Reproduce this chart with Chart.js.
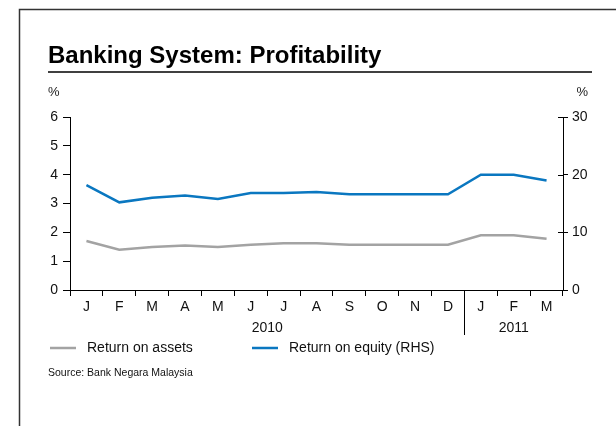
<!DOCTYPE html>
<html>
<head>
<meta charset="utf-8">
<script src="https://cdn.jsdelivr.net/npm/chart.js@4"></script>
<style>
  html, body { margin: 0; padding: 0; background: #fff; }
  #wrap { position: relative; width: 616px; height: 426px; }
</style>
</head>
<body>
<div id="wrap"><canvas id="chart" width="616" height="426"></canvas></div>
<script>
// --- Data ---
const months = ['J', 'F', 'M', 'A', 'M', 'J', 'J', 'A', 'S', 'O', 'N', 'D', 'J', 'F', 'M'];
const years = [
    { label: '2010', from: 0, to: 11 },
    { label: '2011', from: 12, to: 14 }
];
const returnOnAssets = [1.7, 1.4, 1.49, 1.54, 1.49, 1.57, 1.62, 1.62, 1.57, 1.57, 1.57, 1.57, 1.9, 1.9, 1.78];
const returnOnEquity = [18.2, 15.2, 16.0, 16.4, 15.8, 16.8, 16.8, 17.0, 16.6, 16.6, 16.6, 16.6, 20.0, 20.0, 19.0];
const leftTicks = [0, 1, 2, 3, 4, 5, 6];
const rightTicks = [0, 10, 20, 30];

const FONT = '"Liberation Sans", Arial, sans-serif';
const GREY = '#a3a3a3';
const BLUE = '#0a77c0';

// --- Frame, title, year row, legend and source ---
const decorations = {
    id: 'decorations',
    afterDraw(chart) {
        const ctx = chart.ctx;
        const x = chart.scales.x;
        const y1 = chart.scales.y1;
        const bottom = chart.chartArea.bottom;
        ctx.save();

        // outer frame
        ctx.strokeStyle = '#333';
        ctx.lineWidth = 1.5;
        ctx.strokeRect(19.5, 9.5, 620, 430);

        // title and rule
        ctx.fillStyle = '#000';
        ctx.font = 'bold 24px ' + FONT;
        ctx.textBaseline = 'alphabetic';
        ctx.textAlign = 'left';
        ctx.fillText('Banking System: Profitability', 48, 63);
        ctx.strokeStyle = '#000';
        ctx.lineWidth = 1.5;
        ctx.beginPath();
        ctx.moveTo(48, 72);
        ctx.lineTo(592, 72);
        ctx.stroke();

        // unit labels
        ctx.font = '13px ' + FONT;
        ctx.fillStyle = '#222';
        ctx.fillText('%', 48, 96);
        ctx.textAlign = 'right';
        ctx.fillText('%', 588, 96);

        // right axis ticks reach inside the plot too
        ctx.strokeStyle = '#000';
        ctx.lineWidth = 1;
        rightTicks.forEach(v => {
            const py = Math.round(y1.getPixelForValue(v)) + 0.5;
            ctx.beginPath();
            ctx.moveTo(y1.left - 5, py);
            ctx.lineTo(y1.left, py);
            ctx.stroke();
        });

        // year labels and divider
        ctx.font = '14px ' + FONT;
        ctx.fillStyle = '#111';
        ctx.textAlign = 'center';
        ctx.textBaseline = 'middle';
        years.forEach(yr => {
            const cx = (x.getPixelForValue(yr.from) + x.getPixelForValue(yr.to)) / 2;
            ctx.fillText(yr.label, cx, 328);
        });
        const half = (x.getPixelForValue(1) - x.getPixelForValue(0)) / 2;
        const divX = Math.round(x.getPixelForValue(years[1].from) - half) + 0.5;
        ctx.beginPath();
        ctx.moveTo(divX, bottom);
        ctx.lineTo(divX, 335);
        ctx.stroke();

        // legend
        const items = [
            { text: 'Return on assets', color: GREY, x: 50 },
            { text: 'Return on equity (RHS)', color: BLUE, x: 252 }
        ];
        ctx.font = '14px ' + FONT;
        ctx.textAlign = 'left';
        items.forEach(it => {
            ctx.strokeStyle = it.color;
            ctx.lineWidth = 2.5;
            ctx.beginPath();
            ctx.moveTo(it.x, 348);
            ctx.lineTo(it.x + 26, 348);
            ctx.stroke();
            ctx.fillStyle = '#111';
            ctx.fillText(it.text, it.x + 37, 348);
        });

        // source
        ctx.font = '10.5px ' + FONT;
        ctx.fillText('Source: Bank Negara Malaysia', 48, 373);
        ctx.restore();
    }
};

const ctx = document.getElementById('chart').getContext('2d');
new Chart(ctx, {
    type: 'line',
    data: {
        labels: months,
        datasets: [
            {
                label: 'Return on assets',
                data: returnOnAssets,
                yAxisID: 'y',
                borderColor: GREY,
                borderWidth: 2.5,
                pointRadius: 0,
                tension: 0
            },
            {
                label: 'Return on equity (RHS)',
                data: returnOnEquity,
                yAxisID: 'y1',
                borderColor: BLUE,
                borderWidth: 2.5,
                pointRadius: 0,
                tension: 0
            }
        ]
    },
    options: {
        responsive: false,
        animation: false,
        layout: { padding: { top: 117, left: 0, right: 0, bottom: 0 } },
        plugins: {
            legend: { display: false },
            title: { display: false },
            tooltip: { enabled: false }
        },
        scales: {
            x: {
                offset: true,
                grid: {
                    offset: true,
                    drawOnChartArea: false,
                    color: '#000',
                    tickLength: 6
                },
                border: { color: '#000', width: 1 },
                ticks: {
                    color: '#111',
                    font: { family: FONT, size: 14 },
                    padding: 3,
                    maxRotation: 0,
                    autoSkip: false
                },
                afterFit(scale) { scale.height = 136; }
            },
            y: {
                position: 'left',
                min: 0,
                max: 6,
                afterBuildTicks(scale) { scale.ticks = leftTicks.map(v => ({ value: v })); },
                grid: { drawOnChartArea: false, color: '#000', tickLength: 7 },
                border: { color: '#000', width: 1 },
                ticks: {
                    color: '#111',
                    font: { family: FONT, size: 14 },
                    padding: 5
                },
                afterFit(scale) { scale.width = 70; }
            },
            y1: {
                position: 'right',
                min: 0,
                max: 30,
                afterBuildTicks(scale) { scale.ticks = rightTicks.map(v => ({ value: v })); },
                grid: { drawOnChartArea: false, color: '#000', tickLength: 5 },
                border: { color: '#000', width: 1 },
                ticks: {
                    color: '#111',
                    font: { family: FONT, size: 14 },
                    padding: 4
                },
                afterFit(scale) { scale.width = 53; }
            }
        }
    },
    plugins: [decorations]
});
</script>
</body>
</html>
